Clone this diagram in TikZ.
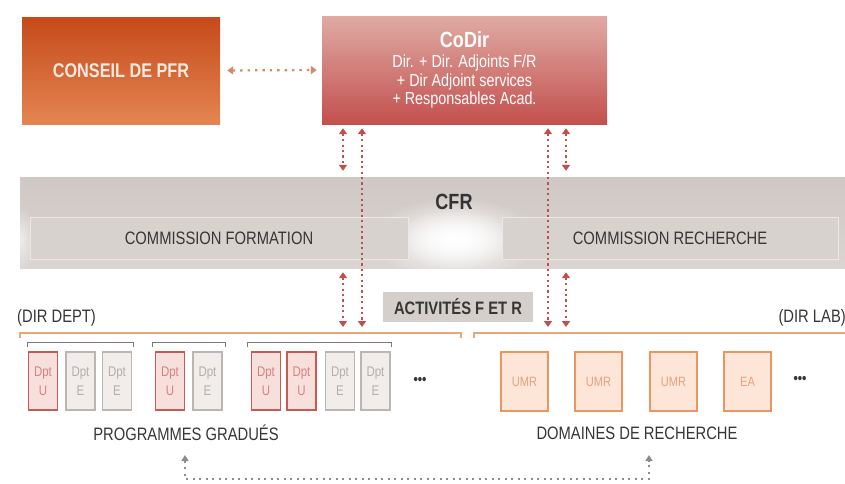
\documentclass[tikz,border=0pt]{standalone}
\usepackage{fontspec}
\setmainfont[FakeStretch=0.82]{Liberation Sans}
\usetikzlibrary{arrows.meta,calc,fadings}
\tikzfading[name=glowfade, inner color=transparent!0, outer color=transparent!100]
\definecolor{consTop}{HTML}{C64A1A}
\definecolor{consBot}{HTML}{E38552}
\definecolor{codTop}{HTML}{DFAAA3}
\definecolor{codBot}{HTML}{C3504E}
\definecolor{arrRed}{HTML}{C0504D}
\definecolor{arrSalmon}{HTML}{D8886A}
\definecolor{lineOrange}{HTML}{E9A677}
\definecolor{umrBorder}{HTML}{E89662}
\definecolor{umrFill}{HTML}{FDE6D8}
\definecolor{umrText}{HTML}{E3A27E}
\definecolor{dptUBorder}{HTML}{C65A55}
\definecolor{dptUFill}{HTML}{F7E0DC}
\definecolor{dptUText}{HTML}{D88080}
\definecolor{dptEBorder}{HTML}{BDB5B1}
\definecolor{dptEFill}{HTML}{F1EDEB}
\definecolor{dptEText}{HTML}{B6AEAB}
\definecolor{bandTop}{HTML}{CFC8C5}
\definecolor{bandBot}{HTML}{DAD5D2}
\definecolor{commFill}{HTML}{D8D2CF}
\definecolor{commEdge}{HTML}{ECE8E6}
\definecolor{actFill}{HTML}{D5CFCC}
\definecolor{darkText}{HTML}{363636}
\definecolor{bracketGray}{HTML}{7E7876}
\definecolor{arrGray}{HTML}{8C8C8C}
\definecolor{consText}{HTML}{FBEADF}
\tikzset{
  bigbox/.style={rectangle, inner sep=0pt, text=white, align=center},
  band/.style={rectangle, inner sep=0pt, top color=bandTop, bottom color=bandBot, minimum width=825pt, minimum height=91pt},
  commbox/.style={rectangle, inner sep=0pt, fill=commFill, draw=commEdge, line width=1pt, minimum height=42pt, text=darkText, font=\fontsize{18}{20}\selectfont},
  lbl/.style={inner sep=0pt, text=darkText, font=\fontsize{18}{20}\selectfont},
  dptU/.style={rectangle, draw=dptUBorder, fill=dptUFill, line width=1.6pt, minimum width=29pt, minimum height=58pt, inner sep=0pt, text=dptUText, align=center, font=\fontsize{14}{19}\selectfont},
  dptE/.style={rectangle, draw=dptEBorder, fill=dptEFill, line width=1.6pt, minimum width=29pt, minimum height=58pt, inner sep=0pt, text=dptEText, align=center, font=\fontsize{14}{19}\selectfont},
  umr/.style={rectangle, draw=umrBorder, fill=umrFill, line width=1.6pt, minimum width=47pt, minimum height=59pt, inner sep=0pt, text=umrText, font=\fontsize{13.5}{15}\selectfont},
  redarr/.style={draw=arrRed, line width=2.2pt, dash pattern=on 2.2pt off 3.2pt, {Triangle[width=8pt,length=6pt]}-{Triangle[width=8pt,length=6pt]}},
  salmonarr/.style={draw=arrSalmon, line width=2.2pt, dash pattern=on 2.4pt off 5pt, {Triangle[width=8pt,length=6pt]}-{Triangle[width=8pt,length=6pt]}},
  grayarr/.style={draw=arrGray, line width=2pt, dash pattern=on 2pt off 4.5pt, {Triangle[width=7pt,length=6pt]}-{Triangle[width=7pt,length=6pt]}},
  orangeline/.style={draw=lineOrange, line width=1.3pt},
  bracket/.style={draw=bracketGray, line width=1pt},
  dots/.style={inner sep=0pt, text=darkText, font=\fontsize{15}{15}\selectfont\bfseries}
}
\begin{document}
\begin{tikzpicture}[x=1pt,y=-1pt]
\useasboundingbox[fill=white] (0,0) rectangle (845,483);

% top boxes
\node[bigbox, top color=consTop, bottom color=consBot, minimum width=198pt, minimum height=107pt,
      text=consText, font=\fontsize{19.8}{22}\selectfont\bfseries] (conseil) at (121,70.5) {CONSEIL DE PFR};
\node[bigbox, top color=codTop, bottom color=codBot, minimum width=285pt, minimum height=108pt,
      font=\fontsize{17.5}{18.5}\selectfont] (codir) at (464.5,70)
  {{\fontsize{22}{22}\selectfont\bfseries CoDir}\\[2pt]Dir. + Dir. Adjoints F/R\\+ Dir Adjoint services\\+ Responsables Acad.};

\draw[salmonarr, shorten <=7pt, shorten >=5pt] (conseil.east) -- (codir.west);

% CFR band
\node[band] (cfr) at (432.5,222.5) {};
\begin{scope}
  \clip (cfr.north west) rectangle (cfr.south east);
  \fill[white, path fading=glowfade, fit fading=true] (455,239) ellipse (85pt and 42pt);
  \fill[white, path fading=glowfade, fit fading=true] (455,239) ellipse (60pt and 30pt);
  \fill[white, opacity=0.6, path fading=glowfade, fit fading=true] (20,239) ellipse (16pt and 32pt);
\end{scope}
\node[lbl, font=\fontsize{22}{24}\selectfont\bfseries, text=black!80] (cfrlabel) at (454,202) {CFR};
\node[commbox, minimum width=378pt] (cf) at (219,238) {COMMISSION FORMATION};
\node[commbox, minimum width=336pt] (cr) at (670,238) {COMMISSION RECHERCHE};

% activites
\node[rectangle, fill=actFill, inner sep=0pt, minimum width=150pt, minimum height=30pt,
      text=darkText, font=\fontsize{18}{20}\selectfont\bfseries] (act) at (458,307) {ACTIVITÉS F ET R};

% vertical red arrows
\coordinate (xa) at (343,0);
\coordinate (xb) at (362,0);
\coordinate (xc) at (548,0);
\coordinate (xd) at (566,0);
\coordinate (deptline) at (0,333);
\draw[redarr, shorten <=4pt, shorten >=6pt] (codir.south -| xa) -- (cfr.north -| xa);
\draw[redarr, shorten <=4pt, shorten >=6pt] (cfr.south -| xa) -- (deptline -| xa);
\draw[redarr, shorten <=4pt, shorten >=6pt] (codir.south -| xb) -- (deptline -| xb);
\draw[redarr, shorten <=4pt, shorten >=6pt] (codir.south -| xc) -- (deptline -| xc);
\draw[redarr, shorten <=4pt, shorten >=6pt] (codir.south -| xd) -- (cfr.north -| xd);
\draw[redarr, shorten <=4pt, shorten >=6pt] (cfr.south -| xd) -- (deptline -| xd);

% dir labels and orange lines
\node[lbl, anchor=west] (dirdept) at (17,318) {(DIR DEPT)};
\node[lbl, anchor=east] (dirlab) at (846,318) {(DIR LAB)};
\draw[orangeline] (20,338) -- (20,333) -- (461,333) -- (461,338);
\draw[orangeline] (474,338) -- (474,333) -- (846,333);

% brackets
\draw[bracket] (27,347) -- (27,342) -- (133,342) -- (133,347);
\draw[bracket] (152,347) -- (152,342) -- (225,342) -- (225,347);
\draw[bracket] (247,347) -- (247,342) -- (391,342) -- (391,347);

% departments
\node[dptU] (d1) at (43,381) {Dpt\\U};
\node[dptE] (d2) at (80.5,381) {Dpt\\E};
\node[dptE] (d3) at (117,381) {Dpt\\E};
\node[dptU] (d4) at (170,381) {Dpt\\U};
\node[dptE] (d5) at (207.5,381) {Dpt\\E};
\node[dptU] (d6) at (266,381) {Dpt\\U};
\node[dptU] (d7) at (301.5,381) {Dpt\\U};
\node[dptE] (d8) at (340,381) {Dpt\\E};
\node[dptE] (d9) at (375.5,381) {Dpt\\E};
\node[dots] (dl) at (420,381) {•••};

% labs
\node[umr] (u1) at (524.5,381.5) {UMR};
\node[umr] (u2) at (598.5,381.5) {UMR};
\node[umr] (u3) at (673.5,381.5) {UMR};
\node[umr] (u4) at (747.5,381.5) {EA};
\node[dots] (dr) at (800,380) {•••};

% bottom labels
\node[lbl] (prog) at (186,433) {PROGRAMMES GRADUÉS};
\node[lbl] (dom) at (637,433) {DOMAINES DE RECHERCHE};

\coordinate (gtl) at (185,455);
\coordinate (gtr) at (649,455);
\coordinate (botline) at (0,479);
\draw[grayarr] (gtl) -- (gtl |- botline) -- (gtr |- botline) -- (gtr);
\end{tikzpicture}
\end{document}
